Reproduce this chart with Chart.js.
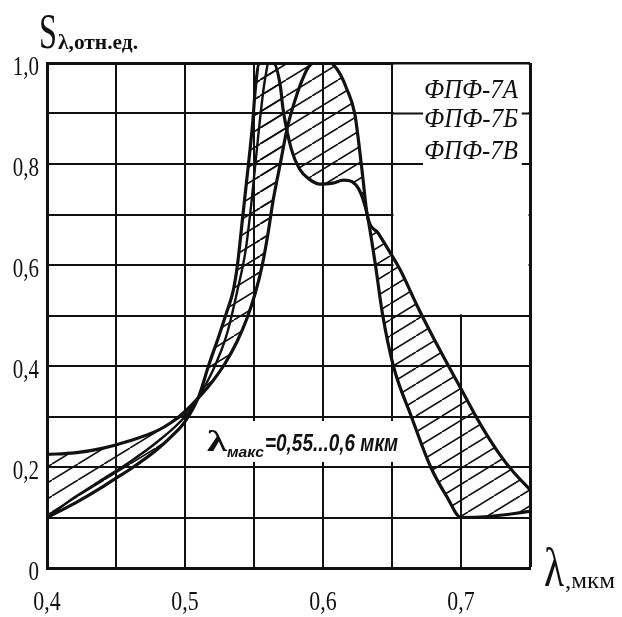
<!DOCTYPE html>
<html lang="ru">
<head>
<meta charset="UTF-8">
<title>ФПФ-7 spectral sensitivity</title>
<style>
  html, body { margin: 0; padding: 0; background: #fff; }
  #wrap { width: 622px; height: 617px; }
</style>
</head>
<body>
<div id="wrap"><canvas id="chart"></canvas></div>

<script src="https://cdn.jsdelivr.net/npm/chart.js"></script>
<script>
  // wavelength, mkm / relative sensitivity
  const lamA = [0.40, 0.42, 0.44, 0.46, 0.48, 0.49, 0.50, 0.51, 0.52, 0.529, 0.538, 0.545, 0.551, 0.556, 0.56, 0.564, 0.569, 0.574, 0.579, 0.584, 0.589, 0.594, 0.605, 0.612, 0.617, 0.623, 0.626, 0.629, 0.632, 0.64, 0.649, 0.656, 0.669, 0.685, 0.70, 0.714, 0.728, 0.738, 0.75];
  const sA   = [0.225, 0.228, 0.237, 0.252, 0.272, 0.288, 0.31, 0.338, 0.37, 0.405, 0.45, 0.495, 0.545, 0.60, 0.66, 0.73, 0.80, 0.87, 0.92, 0.96, 0.99, 1.0, 1.0, 0.98, 0.95, 0.90, 0.84, 0.77, 0.70, 0.663, 0.623, 0.59, 0.515, 0.43, 0.355, 0.285, 0.225, 0.19, 0.155];

  const lamB = [0.40, 0.42, 0.44, 0.45, 0.46, 0.48, 0.49, 0.50, 0.51, 0.517, 0.524, 0.530, 0.535, 0.538, 0.542, 0.546, 0.549, 0.551, 0.554, 0.564, 0.569, 0.571, 0.577, 0.583, 0.59, 0.598, 0.607, 0.615, 0.621, 0.626, 0.629, 0.632, 0.638, 0.643, 0.651, 0.664, 0.678, 0.69, 0.70, 0.72, 0.75];
  const sB   = [0.10, 0.128, 0.16, 0.178, 0.195, 0.235, 0.26, 0.29, 0.34, 0.40, 0.455, 0.505, 0.55, 0.60, 0.70, 0.80, 0.88, 0.95, 1.0, 1.0, 0.956, 0.91, 0.83, 0.79, 0.77, 0.76, 0.762, 0.768, 0.765, 0.75, 0.73, 0.70, 0.60, 0.505, 0.40, 0.30, 0.20, 0.14, 0.10, 0.102, 0.112];

  const lamC = [0.40, 0.42, 0.44, 0.46, 0.48, 0.50, 0.51, 0.52, 0.53, 0.538, 0.544, 0.548, 0.551, 0.554, 0.557, 0.56];
  const sC   = [0.10, 0.14, 0.175, 0.21, 0.25, 0.30, 0.34, 0.39, 0.46, 0.55, 0.63, 0.72, 0.80, 0.88, 0.95, 1.0];

  // top of the peak zone (hatched up to 1,0)
  const lamTop = [0.552, 0.594];
  const sTop   = [1.0, 1.0];

  const seriesNames = ['ФПФ-7А', 'ФПФ-7Б', 'ФПФ-7В'];
  const xLabelVals = [0.4, 0.5, 0.6, 0.7];
  const xLabelText = ['0,4', '0,5', '0,6', '0,7'];
  const yLabelVals = [0, 0.2, 0.4, 0.6, 0.8, 1.0];
  const yLabelText = ['0', '0,2', '0,4', '0,6', '0,8', '1,0'];
  const noteText = '=0,55...0,6 мкм';

  const ink = '#111';

  function pts(xs, ys) {
    return xs.map((v, i) => ({ x: v, y: ys[i] }));
  }

  // diagonal hatching
  function hatch() {
    const c = document.createElement('canvas');
    c.width = 26; c.height = 16;
    const g = c.getContext('2d');
    g.strokeStyle = ink;
    g.lineWidth = 1.6;
    for (let k = -1; k <= 1; k++) {
      g.beginPath();
      g.moveTo(k * 26, 16);
      g.lineTo(k * 26 + 26, 0);
      g.stroke();
    }
    return g.createPattern(c, 'repeat');
  }

  function drawText(ctx, str, x, y, font, opt) {
    ctx.save();
    ctx.font = font;
    const w = ctx.measureText(str).width;
    const sx = opt.width ? opt.width / w : (opt.sx || 1);
    ctx.translate(x, y);
    ctx.scale(sx, 1);
    ctx.textAlign = opt.align || 'left';
    ctx.textBaseline = 'alphabetic';
    ctx.fillStyle = ink;
    ctx.fillText(str, 0, 0);
    ctx.restore();
  }

  const gridPatch = {
    id: 'gridPatch',
    beforeDatasetsDraw(chart) {
      const { ctx, scales: { x, y } } = chart;
      ctx.save();
      ctx.fillStyle = '#fff';
      // empty corner under the legend
      const l = x.getPixelForValue(0.65) + 1.5, r = x.getPixelForValue(0.75) - 1.5;
      const t = y.getPixelForValue(1.0) + 1.5, b = y.getPixelForValue(0.5) - 1.2;
      ctx.fillRect(l, t, r - l, b - t);
      ctx.strokeStyle = ink;
      ctx.lineWidth = 2;
      [0.9, 0.8].forEach(v => {
        const py = y.getPixelForValue(v);
        ctx.beginPath();
        ctx.moveTo(l - 2, py);
        ctx.lineTo(x.getPixelForValue(0.6725), py);
        ctx.moveTo(x.getPixelForValue(0.744), py);
        ctx.lineTo(r + 2, py);
        ctx.stroke();
      });
      // white box behind the note
      const bx = x.getPixelForValue(0.5125), bx2 = x.getPixelForValue(0.6558);
      const by = y.getPixelForValue(0.291), by2 = y.getPixelForValue(0.21);
      ctx.fillRect(bx, by, bx2 - bx, by2 - by);
      ctx.restore();
    },
    afterDraw(chart) {
      const { ctx, scales: { x, y } } = chart;
      const tickFont = '28px "Liberation Serif"';
      yLabelVals.forEach((v, i) => {
        drawText(ctx, yLabelText[i], 39, y.getPixelForValue(v) + 12, tickFont, { sx: 0.75, align: 'right' });
      });
      xLabelVals.forEach((v, i) => {
        drawText(ctx, xLabelText[i], x.getPixelForValue(v), 610, tickFont, { sx: 0.78, align: 'center' });
      });

      // axis titles
      drawText(ctx, 'S', 39, 48, '50px "Liberation Serif"', { width: 18 });
      drawText(ctx, 'λ,отн.ед.', 58, 49, 'bold 22px "Liberation Serif"', { width: 80 });
      drawText(ctx, 'λ', 544, 586, '54px "Liberation Serif"', { width: 20 });
      drawText(ctx, ',мкм', 565, 588, '24px "Liberation Serif"', { width: 50 });

      // legend names
      const legY = [98, 127, 159];
      seriesNames.forEach((s, i) => {
        drawText(ctx, s, 518, legY[i], 'italic 28px "Liberation Serif"', { width: 94, align: 'right' });
      });

      // note
      drawText(ctx, 'λ', 207, 451, 'bold 30px "Liberation Serif"', { width: 20 });
      drawText(ctx, 'макс', 227, 457, 'bold italic 15px "Liberation Sans"', { width: 37 });
      drawText(ctx, noteText, 265, 451, 'bold italic 24px "Liberation Sans"', { width: 133 });
    }
  };

  const pattern = hatch();
  const lineStyle = { borderColor: ink, pointRadius: 0, cubicInterpolationMode: 'monotone' };

  new Chart(document.getElementById('chart'), {
    type: 'line',
    data: {
      datasets: [
        { ...lineStyle, label: seriesNames[0], data: pts(lamB, sB), borderWidth: 3.2, fill: false },
        { ...lineStyle, label: seriesNames[1], data: pts(lamC, sC), borderWidth: 2.4, fill: false },
        { ...lineStyle, label: 'top', data: pts(lamTop, sTop), borderWidth: 0, borderColor: 'rgba(0,0,0,0)',
          backgroundColor: pattern, fill: 3 },
        { ...lineStyle, label: seriesNames[2], data: pts(lamA, sA), borderWidth: 3.2,
          backgroundColor: pattern, fill: 0 }
      ]
    },
    options: {
      responsive: true,
      maintainAspectRatio: false,
      animation: false,
      layout: { padding: { left: 47, right: 92, top: 63, bottom: 49 } },
      plugins: { legend: { display: false }, tooltip: { enabled: false } },
      scales: {
        x: {
          type: 'linear', min: 0.4, max: 0.75,
          ticks: { stepSize: 0.05, display: false },
          grid: { color: ink, lineWidth: c => (c.tick && c.tick.value > 0.74) ? 3 : 2, drawTicks: false },
          border: { color: ink, width: 3 },
          afterFit: s => { s.height = 0; }
        },
        y: {
          min: 0, max: 1,
          ticks: { stepSize: 0.1, display: false },
          grid: { color: ink, lineWidth: c => (c.tick && c.tick.value > 0.99) ? 3 : 2, drawTicks: false },
          border: { color: ink, width: 3 },
          afterFit: s => { s.width = 0; }
        }
      }
    },
    plugins: [gridPatch]
  });
</script>
</body>
</html>
